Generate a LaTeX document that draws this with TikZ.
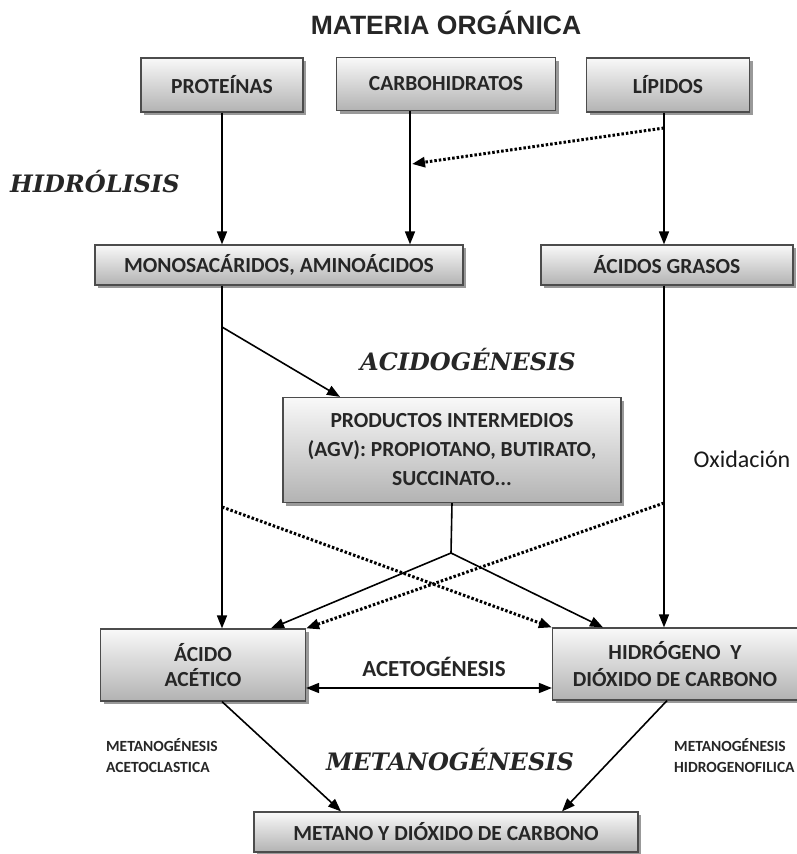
\documentclass[tikz,border=0pt]{standalone}
\usepackage{fontspec}
\usepackage{tikz}
\usetikzlibrary{arrows.meta,shadows}
\newfontfamily\boxfont{Carlito}
\newfontfamily\headfont{Liberation Sans}
\newfontfamily\phasefont{DejaVu Serif}
\tikzset{
  proc/.style={draw=gray!60!black, line width=1.2pt, top color=gray!5, bottom color=gray!60,
    text=black!85, align=center, inner sep=0pt,
    font=\boxfont\bfseries\fontsize{21.5}{29}\selectfont,
    drop shadow={shadow xshift=3pt, shadow yshift=-3pt, fill=gray!80, opacity=1}},
  phase/.style={font=\phasefont\bfseries\itshape\fontsize{24}{28}\selectfont, text=black!85},
  note/.style={font=\boxfont\bfseries\fontsize{15.5}{21}\selectfont, align=left, anchor=west, inner sep=0pt, text=black!85},
  flow/.style={->, line width=1.6pt},
  dots/.style={->, line width=3pt, dash pattern=on 2.5pt off 2pt},
}

\begin{document}
\begin{tikzpicture}[x=1pt, y=-1pt, >={Triangle[length=13pt,width=10pt]}]
\useasboundingbox (0,0) rectangle (797,854);
\node[font=\headfont\bfseries\fontsize{26.5}{30}\selectfont, text=black!85] (title) at (446,23) {MATERIA ORGÁNICA};
% substrates
\node[proc, minimum width=162pt, minimum height=54pt] (prot) at (222,85) {PROTEÍNAS};
\node[proc, minimum width=219pt, minimum height=53pt] (carb) at (446,84) {CARBOHIDRATOS};
\node[proc, minimum width=163pt, minimum height=54pt] (lip) at (668,85) {LÍPIDOS};
\node[proc, minimum width=368pt, minimum height=40pt] (mono) at (279,265) {MONOSACÁRIDOS, AMINOÁCIDOS};
\node[proc, minimum width=252pt, minimum height=40pt] (grasos) at (667,265) {ÁCIDOS GRASOS};
\node[proc, minimum width=338pt, minimum height=105pt] (prod) at (452,450) {PRODUCTOS INTERMEDIOS\\(AGV): PROPIOTANO, BUTIRATO,\\SUCCINATO...};
\node[proc, minimum width=205pt, minimum height=72pt, font=\boxfont\bfseries\fontsize{21.5}{25}\selectfont] (acido) at (203,665) {ÁCIDO\\ACÉTICO};
\node[proc, minimum width=245pt, minimum height=72pt, font=\boxfont\bfseries\fontsize{21.5}{27}\selectfont] (hidro) at (675,664) {HIDRÓGENO~~Y\\DIÓXIDO DE CARBONO};
\node[proc, minimum width=384pt, minimum height=40pt] (metano) at (446,832) {METANO Y DIÓXIDO DE CARBONO};

% stage names
\node[phase] (hidrolisis) at (95,182) {HIDRÓLISIS};
\node[phase] (acidog) at (468,360) {ACIDOGÉNESIS};
\node[phase] (metanog) at (450,760) {METANOGÉNESIS};
\node[font=\boxfont\fontsize{24}{28}\selectfont, text=black!90] (oxid) at (742,459) {Oxidación};
\node[font=\boxfont\bfseries\fontsize{23}{28}\selectfont, text=black!85] (acetog) at (434,667) {ACETOGÉNESIS};
\node[note] (acetocl) at (106,756) {METANOGÉNESIS\\ACETOCLASTICA};
\node[note] (hidrof) at (674,756) {METANOGÉNESIS\\HIDROGENOFILICA};

% hydrolysis
\coordinate (c1) at ([xshift=-36pt]carb.south);
\draw[flow] (prot.south) -- (prot.south |- mono.north);
\draw[flow] (c1) -- (c1 |- mono.north);
\draw[flow] ([xshift=-4pt]lip.south) -- ([xshift=-4pt]lip.south |- grasos.north);
\coordinate (d1) at (664,128);
\coordinate (d2) at (412,164);
\draw[dots] (d1) -- (d2);

% acidogenesis
\coordinate (brA) at (222,327);
\draw[flow] (prot.south |- mono.south) -- (prot.south |- acido.north);
\draw[flow] (brA) -- ([xshift=-112pt]prod.north);
\draw[flow] ([xshift=-3pt]grasos.south) -- ([xshift=-3pt]grasos.south |- hidro.north);
\coordinate (split) at (451,553);
\draw[line width=1.6pt] (prod.south) -- (split);
\draw[flow] (split) -- ([xshift=68pt]acido.north);
\draw[flow] (split) -- ([xshift=-72pt]hidro.north);
\coordinate (dl) at (222,507);
\coordinate (dr) at (664,503);
\draw[dots] (dl) -- (hidro.north west);
\draw[dots] (dr) -- (acido.north east);

% acetogenesis and methanogenesis
\draw[flow, <->] ([yshift=-23pt]acido.east) -- ([yshift=-23pt]acido.east -| hidro.west);
\draw[flow] (acido.south -| prot.south) -- ([xshift=-105pt]metano.north);
\draw[flow] ([xshift=-8pt]hidro.south) -- ([xshift=116pt]metano.north);
\end{tikzpicture}
\end{document}
